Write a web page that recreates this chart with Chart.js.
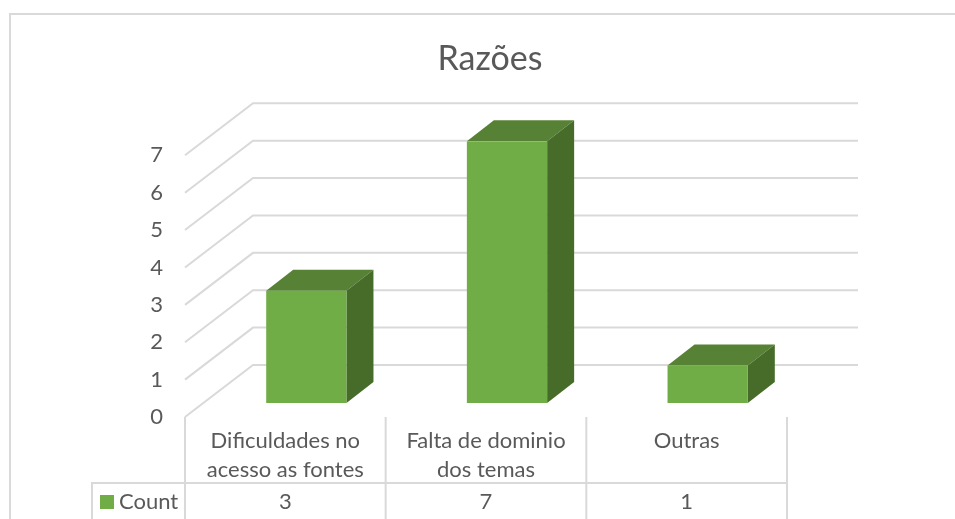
<!DOCTYPE html>
<html>
<head>
<meta charset="utf-8">
<title>Razões</title>
<script src="https://cdn.jsdelivr.net/npm/chart.js@4"></script>
<style>
html, body { margin: 0; padding: 0; background: #fff; overflow: hidden; }
#wrap { width: 955px; height: 519px; position: relative; }
</style>
</head>
<body>
<div id="wrap"><canvas id="bar-chart" width="955" height="519"></canvas></div>
<script>
var categories = [ [ "Dificuldades no", "acesso as fontes" ], [ "Falta de dominio", "dos temas" ], "Outras" ];
var counts = [ 3, 7, 1 ];
var seriesName = "Count";
var chartTitle = "Razões";
var yMax = 7;

var GRID = '#d9d9d9', TEXT = '#595959', FRONT = '#70ad47', TOP = '#578235', SIDE = '#476c2a';
var FONT = 'Lato, Carlito, sans-serif';
var wall = { dx: 68, dy: -52 };
var barShift = { dx: 21, dy: -14 };
var barDepth = { dx: 27, dy: -21 };
var tableY = 483, tableLeft = 92;

function line(ctx, points) {
	ctx.beginPath();
	points.forEach(function(p, i) {
		if (i == 0) ctx.moveTo(p[0], p[1]); else ctx.lineTo(p[0], p[1]);
	});
	ctx.stroke();
}

function face(ctx, points, color) {
	ctx.fillStyle = color;
	ctx.beginPath();
	points.forEach(function(p, i) {
		if (i == 0) ctx.moveTo(p[0], p[1]); else ctx.lineTo(p[0], p[1]);
	});
	ctx.closePath();
	ctx.fill();
}

// frame, 3D walls and the data table under the axis
var excelLook = {
	id : 'excelLook',
	afterLayout : function(chart) {
		chart.titleBlock.left += 4;
		chart.titleBlock.right += 4;
	},
	beforeDraw : function(chart) {
		var ctx = chart.ctx, a = chart.chartArea, x = chart.scales.x, y = chart.scales.y;
		ctx.save();
		ctx.strokeStyle = GRID;
		ctx.lineWidth = 2;
		line(ctx, [ [ 10, 519 ], [ 10, 14 ], [ 955, 14 ] ]);
		y.ticks.forEach(function(t) {
			var py = y.getPixelForValue(t.value);
			line(ctx, [ [ a.left, py ], [ a.left + wall.dx, py + wall.dy ], [ a.right + wall.dx + 3, py + wall.dy ] ]);
		});
		// table
		line(ctx, [ [ tableLeft, 519 ], [ tableLeft, tableY ], [ a.right, tableY ] ]);
		var edges = [ a.left ];
		counts.forEach(function(c, i) {
			edges.push(x.getPixelForValue(i) + (x.getPixelForValue(1) - x.getPixelForValue(0)) / 2);
		});
		edges.forEach(function(ex) {
			line(ctx, [ [ ex, a.bottom ], [ ex, 519 ] ]);
		});
		ctx.fillStyle = TEXT;
		ctx.font = '22px ' + FONT;
		ctx.textBaseline = 'middle';
		ctx.textAlign = 'center';
		counts.forEach(function(c, i) {
			ctx.fillText(String(c), x.getPixelForValue(i), 502);
		});
		ctx.textAlign = 'left';
		ctx.fillText(seriesName, 119, 502);
		ctx.fillStyle = FRONT;
		ctx.fillRect(100, 495, 14, 14);
		ctx.restore();
	},
	beforeDatasetsDraw : function(chart) {
		chart.ctx.save();
		chart.ctx.translate(barShift.dx, barShift.dy);
		// side and top go under the front face
		var ctx = chart.ctx;
		chart.getDatasetMeta(0).data.forEach(function(bar) {
			var p = bar.getProps([ 'x', 'y', 'base', 'width' ], true);
			var l = p.x - p.width / 2, r = p.x + p.width / 2;
			face(ctx, [ [ l, p.y ], [ r, p.y ], [ r + barDepth.dx, p.y + barDepth.dy ], [ l + barDepth.dx, p.y + barDepth.dy ] ], TOP);
			face(ctx, [ [ r, p.y ], [ r + barDepth.dx, p.y + barDepth.dy ], [ r + barDepth.dx, p.base + barDepth.dy ], [ r, p.base ] ], SIDE);
		});
	},
	afterDatasetsDraw : function(chart) {
		chart.ctx.restore();
	}
};

var ctx = document.getElementById("bar-chart").getContext("2d");
var myChart = new Chart(ctx, {
	type : 'bar',
	plugins : [ excelLook ],
	data : {
		labels : categories,
		datasets : [ {
			label : seriesName,
			data : counts,
			backgroundColor : FRONT,
			borderWidth : 0,
			categoryPercentage : 0.4,
			barPercentage : 1
		} ]
	},
	options : {
		responsive : false,
		animation : false,
		layout : { padding : { left : 0, right : 168, top : 0, bottom : 0 } },
		plugins : {
			legend : { display : false },
			tooltip : { enabled : false },
			title : {
				display : true,
				text : chartTitle,
				fullSize : false,
				color : TEXT,
				font : { family : FONT, size : 34, weight : 'normal', lineHeight : 1.2 },
				padding : { top : 38.5, bottom : 76 }
			}
		},
		scales : {
			x : {
				grid : { display : false },
				border : { display : false },
				afterFit : function(scale) { scale.height = 102; },
				ticks : {
					color : TEXT,
					autoSkip : false,
					maxRotation : 0,
					padding : 1,
					font : { family : FONT, size : 22, lineHeight : 1.32 }
				}
			},
			y : {
				min : 0,
				max : yMax,
				grid : { display : false },
				border : { display : false },
				afterFit : function(scale) { scale.width = 185; },
				ticks : {
					stepSize : 1,
					color : TEXT,
					padding : 14,
					font : { family : FONT, size : 22 }
				}
			}
		}
	}
});
</script>
</body>
</html>
